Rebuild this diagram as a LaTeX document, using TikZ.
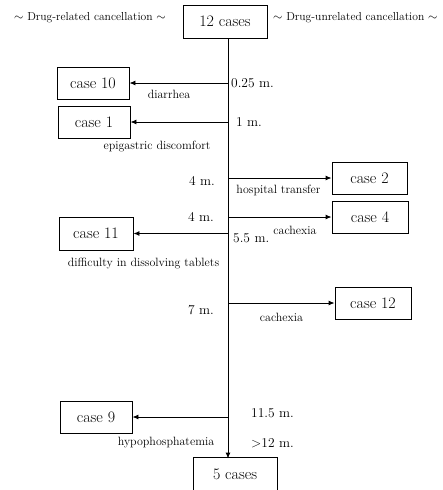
\documentclass[tikz,border=0pt]{standalone}
\usetikzlibrary{arrows.meta}
\begin{document}
\begin{tikzpicture}[x=1pt,y=-1pt,
  cbox/.style={draw,line width=0.9pt,inner sep=0pt,minimum width=#1,minimum height=32pt,font=\fontsize{16}{18}\selectfont},
  cbox/.default=72pt,
  lbl/.style={inner sep=0pt,font=\fontsize{12}{14}\selectfont},
  tm/.style={inner sep=0pt,font=\fontsize{13.5}{15}\selectfont},
  hdr/.style={inner sep=0pt,font=\fontsize{11.6}{14}\selectfont},
  arr/.style={line width=0.9pt,-{Latex[length=6pt,width=5pt]}}]
\useasboundingbox (0,0) rectangle (442,490);
\clip (0,0) rectangle (442,490);
% headers
\node[hdr] (hl) at (90,18) {$\sim$ Drug-related cancellation $\sim$};
\node[hdr,anchor=west] (hr) at (273,18) {$\sim$ Drug-unrelated cancellation $\sim$};
% boxes
\node[cbox=84pt,minimum height=33pt] (top) at (225,21.5) {12 cases};
\node[cbox=72pt] (c10) at (93,83) {case 10};
\node[cbox=72pt] (c1) at (94,122) {case 1};
\node[cbox=75pt] (c2) at (369.5,178) {case 2};
\node[cbox=76pt] (c4) at (370,217) {case 4};
\node[cbox=74pt,minimum height=33pt] (c11) at (96,233.5) {case 11};
\node[cbox=76pt] (c12) at (373,303) {case 12};
\node[cbox=72pt] (c9) at (96,417) {case 9};
\node[cbox=84pt,minimum height=34pt] (five) at (235,474) {5 cases};
% trunk
\coordinate (ta) at (228,38);
\draw[arr] (top.south -| ta) -- ([yshift=-2pt]five.north -| ta);
% branches
\draw[arr] (c10 -| ta) -- (c10.east);
\draw[arr] (c1 -| ta) -- (c1.east);
\draw[arr] (c2 -| ta) -- (c2.west);
\draw[arr] (c4 -| ta) -- (c4.west);
\draw[arr] (c11 -| ta) -- (c11.east);
\draw[arr] (c12 -| ta) -- (c12.west);
\draw[arr] (c9 -| ta) -- (c9.east);
% labels
\node[tm,anchor=west] (t1) at (231,83) {0.25 m.};
\node[lbl] (l1) at (169,94) {diarrhea};
\node[tm,anchor=west] (t2) at (236,122) {1 m.};
\node[lbl] (l2) at (157,147) {epigastric discomfort};
\node[tm,anchor=east] (t3) at (215,181) {4 m.};
\node[lbl] (l3) at (278.5,190) {hospital transfer};
\node[tm,anchor=east] (t4) at (214,217) {4 m.};
\node[lbl] (l4) at (295,230) {cachexia};
\node[tm,anchor=west] (t5) at (233,238) {5.5 m.};
\node[lbl] (l5) at (143.5,264) {difficulty in dissolving tablets};
\node[tm,anchor=east] (t6) at (214,310) {7 m.};
\node[lbl] (l6) at (281.5,317) {cachexia};
\node[tm,anchor=west] (t7) at (251,413) {11.5 m.};
\node[lbl] (l7) at (166,443) {hypophosphatemia};
\node[tm,anchor=west] (t8) at (251,443) {>12 m.};
\end{tikzpicture}
\end{document}
